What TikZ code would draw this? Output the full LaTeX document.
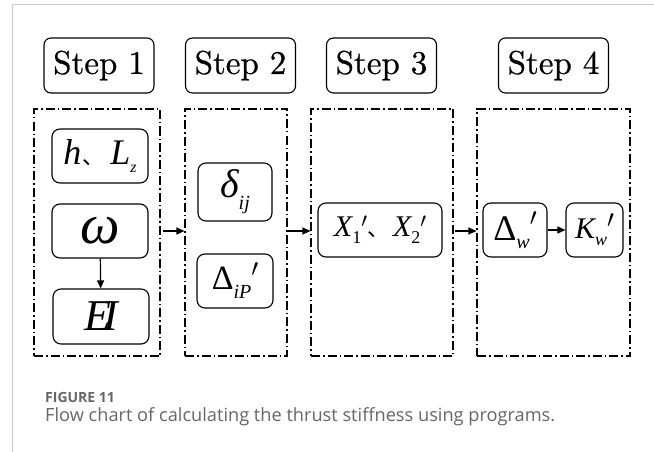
\documentclass[tikz,border=0pt]{standalone}
\usepackage{fontspec}
\usepackage{amsmath}
\newfontfamily\tnr{Liberation Serif}
\newfontfamily\steprm[FakeBold=0.7]{lmroman10-regular.otf}
\newfontfamily\cjk{Noto Sans CJK SC}
\newfontfamily\capfont{Open Sans}
\usetikzlibrary{arrows.meta}
\newcommand\fs[1]{\fontsize{#1}{#1}\selectfont}
\newcommand\pr[2]{\raisebox{#2}{\fs{#1}$\prime$}}
\definecolor{framegray}{HTML}{CCCCCC}
\definecolor{capgray}{HTML}{666666}
\tikzset{
  stepbox/.style={draw, rounded corners=7pt, line width=1.1pt, minimum width=110pt, minimum height=55pt, inner sep=0pt, font=\steprm\fs{33}},
  mbox/.style={draw, rounded corners=8pt, line width=1.1pt, inner sep=0pt, minimum height=54pt, font=\tnr},
  ddbox/.style={draw, line width=1.1pt, dash pattern=on 9pt off 3pt on 1.5pt off 3pt, inner sep=0pt, minimum height=247pt},
  arr/.style={-{Triangle[length=8pt,width=7pt]}, line width=1.2pt},
}
\begin{document}
\begin{tikzpicture}[x=1pt,y=-1pt]
\useasboundingbox (0,0) rectangle (654,452);
\draw[framegray, line width=1pt] (12,452) -- (12,4.5) -- (654,4.5);
% step headers
\node[stepbox] (s1) at (99,65.5) {Step 1};
\node[stepbox] (s2) at (240.5,65.5) {Step 2};
\node[stepbox] (s3) at (381.5,65.5) {Step 3};
\node[stepbox] (s4) at (553.5,65.5) {Step 4};
% dash-dot groups
\node[ddbox, minimum width=126pt] (b1) at (97,232.5) {};
\node[ddbox, minimum width=102pt] (b2) at (236,232.5) {};
\node[ddbox, minimum width=142pt] (b3) at (382,232.5) {};
\node[ddbox, minimum width=153pt] (b4) at (553.5,232.5) {};
% step 1
\node[mbox, minimum width=96pt] (hl) at (100,156) {{\fs{36}\itshape h}\hspace{1pt}{\cjk\fs{22}、}\hspace{6pt}{\fs{36}\itshape L}\raisebox{-8pt}{\fs{16}\itshape z}};
\node[mbox, minimum width=96pt] (om) at (100,231) {\fs{56}\itshape ω};
\node[mbox, minimum width=96pt, minimum height=55pt] (ei) at (101,316.5) {\fs{44}\itshape E\kern-0.18em I};
% step 2
\node[mbox, minimum width=74pt, minimum height=58pt] (dij) at (235,192) {{\fs{40}\itshape δ}\raisebox{-12pt}{\fs{20}\itshape ij}};
\node[mbox, minimum width=76pt] (dip) at (235,281) {{\fs{34}Δ}\raisebox{-9pt}{\fs{20}\itshape iP}\pr{30}{13pt}};
% step 3
\node[mbox, minimum width=124pt] (xx) at (380,230) {{\fs{30}\itshape X}\raisebox{-7pt}{\fs{18}1}\pr{22}{9pt}{\cjk\fs{22}、}\hspace{4pt}{\fs{30}\itshape X}\raisebox{-7pt}{\fs{18}2}\pr{22}{9pt}};
% step 4
\node[mbox, minimum width=64pt] (dw) at (515,230) {{\fs{36}Δ}\raisebox{-8pt}{\fs{20}\itshape w}\pr{28}{15pt}};
\node[mbox, minimum width=57pt] (kw) at (594.5,230) {{\fs{30}\itshape K}\raisebox{-7pt}{\fs{18}\itshape w}\pr{26}{11pt}};
% arrows
\draw[arr] (om) -- (ei);
\draw[arr] ([xshift=2pt]b1.east |- om.center) -- (b2.west |- om.center);
\draw[arr] (b2.east |- om.center) -- (b3.west |- om.center);
\draw[arr] ([xshift=1pt]b3.east |- om.center) -- (b4.west |- om.center);
\draw[arr] (dw) -- (kw);
% caption
\node[anchor=base west, inner sep=0pt, text=capgray, font=\capfont\bfseries\fs{14}] (cap1) at (45,402) {FIGURE 11};
\node[anchor=base west, inner sep=0pt, text=capgray, font=\capfont\fs{18.2}] (cap2) at (45,421) {Flow chart of calculating the thrust stiffness using programs.};
\end{tikzpicture}
\end{document}
